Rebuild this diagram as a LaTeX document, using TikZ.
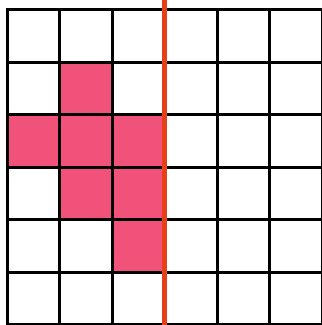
\documentclass[tikz,border=0pt]{standalone}
\usepackage{xcolor}
\definecolor{cellpink}{RGB}{240,82,122}
\definecolor{cutred}{RGB}{232,64,22}
\tikzset{
  gridline/.style={draw=black, line width=0.75mm, line cap=rect},
  filled/.style={fill=cellpink},
  cutline/.style={draw=cutred, line width=1.3mm}
}
\begin{document}
\begin{tikzpicture}[x=0.25mm,y=0.25mm]
  \useasboundingbox (0,0) rectangle (322,325);
  % pink cells, column/row counted from the top left
  \foreach \c/\r in {2/2,1/3,2/3,3/3,2/4,3/4,3/5}
    \fill[filled] ({7+52.5*(\c-1)},{315-52.5*\r}) rectangle ++(52.5,52.5);
  % grid
  \foreach \i in {0,...,6} {
    \draw[gridline] ({7+52.5*\i},0) -- ({7+52.5*\i},315);
    \draw[gridline] (7,{52.5*\i}) -- (322,{52.5*\i});
  }
  % cut line
  \draw[cutline] (164.5,0) -- (164.5,325);
\end{tikzpicture}
\end{document}
